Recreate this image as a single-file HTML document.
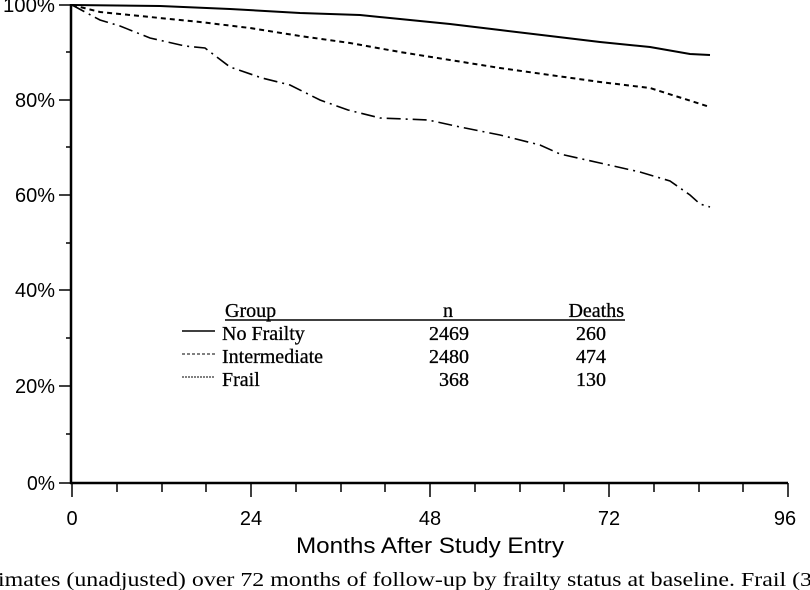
<!DOCTYPE html>
<html><head><style>
html,body{margin:0;padding:0;background:#fff;}
svg{display:block;}
.a{font-family:"Liberation Sans",sans-serif;font-size:20px;fill:#000;}
.s{font-family:"Liberation Serif",serif;font-size:20px;fill:#000;}
</style></head><body>
<svg width="810" height="590" viewBox="0 0 810 590" xmlns="http://www.w3.org/2000/svg">
<g stroke="#000" fill="none">
<line x1="71" y1="4" x2="71" y2="484" stroke-width="2.5"/>
<line x1="70" y1="483" x2="788" y2="483" stroke-width="2.5"/>
<g stroke-width="1.5">
<line x1="59" y1="5" x2="71" y2="5"/><line x1="59" y1="100" x2="71" y2="100"/>
<line x1="59" y1="195" x2="71" y2="195"/><line x1="59" y1="290" x2="71" y2="290"/>
<line x1="59" y1="386" x2="71" y2="386"/><line x1="59" y1="483" x2="71" y2="483"/>
<line x1="66" y1="52" x2="71" y2="52"/><line x1="66" y1="147" x2="71" y2="147"/>
<line x1="66" y1="243" x2="71" y2="243"/><line x1="66" y1="338" x2="71" y2="338"/>
<line x1="66" y1="434" x2="71" y2="434"/>
</g>
<g stroke-width="1.5">
<line x1="72" y1="483" x2="72" y2="497"/><line x1="117" y1="483" x2="117" y2="492"/>
<line x1="162" y1="483" x2="162" y2="492"/><line x1="206" y1="483" x2="206" y2="492"/>
<line x1="251" y1="483" x2="251" y2="497"/><line x1="296" y1="483" x2="296" y2="492"/>
<line x1="341" y1="483" x2="341" y2="492"/><line x1="385" y1="483" x2="385" y2="492"/>
<line x1="430" y1="483" x2="430" y2="497"/><line x1="475" y1="483" x2="475" y2="492"/>
<line x1="520" y1="483" x2="520" y2="492"/><line x1="564" y1="483" x2="564" y2="492"/>
<line x1="609" y1="483" x2="609" y2="497"/><line x1="654" y1="483" x2="654" y2="492"/>
<line x1="699" y1="483" x2="699" y2="492"/><line x1="743" y1="483" x2="743" y2="492"/>
<line x1="788" y1="483" x2="788" y2="497"/>
</g>
<polyline stroke-width="2" points="72,5 160,6 230,9 300,13 360,15 400,19 450,24 500,30 550,36 600,42 650,47 690,54 710,55"/>
<polyline stroke-width="2" stroke-dasharray="5,4" points="72,5 100,12 150,17 200,22 250,28 300,36 350,43 400,52 450,60 500,68 550,75 600,82 650,88 710,107"/>
<polyline stroke-width="1.6" stroke-dasharray="14,5,2,5" points="72,5 85,12 100,20 120,26 150,38 185,46 205,48 230,67 262,78 290,85 320,100 348,110 380,118 428,120 460,127 500,135 540,145 560,154 600,163 640,172 670,181 690,195 700,204 710,207"/>
<line x1="225" y1="320" x2="625" y2="320" stroke-width="1.5"/>
<line x1="182" y1="331" x2="215" y2="331" stroke-width="1.5"/>
<line x1="182" y1="354" x2="215" y2="354" stroke-width="1" stroke-dasharray="3,2"/>
<line x1="182" y1="377" x2="215" y2="377" stroke-width="1" stroke-dasharray="2,1"/>
</g>
<g class="a" text-anchor="end">
<text x="55" y="12" textLength="52" lengthAdjust="spacingAndGlyphs">100%</text>
<text x="55" y="107" textLength="40" lengthAdjust="spacingAndGlyphs">80%</text>
<text x="55" y="202" textLength="40" lengthAdjust="spacingAndGlyphs">60%</text>
<text x="55" y="297" textLength="40" lengthAdjust="spacingAndGlyphs">40%</text>
<text x="55" y="393" textLength="40" lengthAdjust="spacingAndGlyphs">20%</text>
<text x="55" y="490" textLength="28" lengthAdjust="spacingAndGlyphs">0%</text>
</g>
<g class="a" text-anchor="middle">
<text x="72" y="525">0</text><text x="251" y="525">24</text><text x="430" y="525">48</text>
<text x="609" y="525">72</text><text x="785" y="525">96</text>
<text x="430" y="553" font-size="22" textLength="268" lengthAdjust="spacingAndGlyphs">Months After Study Entry</text>
</g>
<g class="s" stroke="#000" stroke-width="0.3">
<text x="225" y="317">Group</text>
<text x="222" y="340">No Frailty</text>
<text x="222" y="363">Intermediate</text>
<text x="222" y="386">Frail</text>
<g text-anchor="end">
<text x="453" y="317">n</text>
<text x="469" y="340">2469</text><text x="469" y="363">2480</text><text x="469" y="386">368</text>
<text x="624" y="317">Deaths</text>
<text x="606" y="340">260</text><text x="606" y="363">474</text><text x="606" y="386">130</text>
</g>
</g>
<text class="s" x="-2" y="586" font-size="22" textLength="814" lengthAdjust="spacingAndGlyphs">imates (unadjusted) over 72 months of follow-up by frailty status at baseline. Frail (3</text>
</svg>
</body></html>
